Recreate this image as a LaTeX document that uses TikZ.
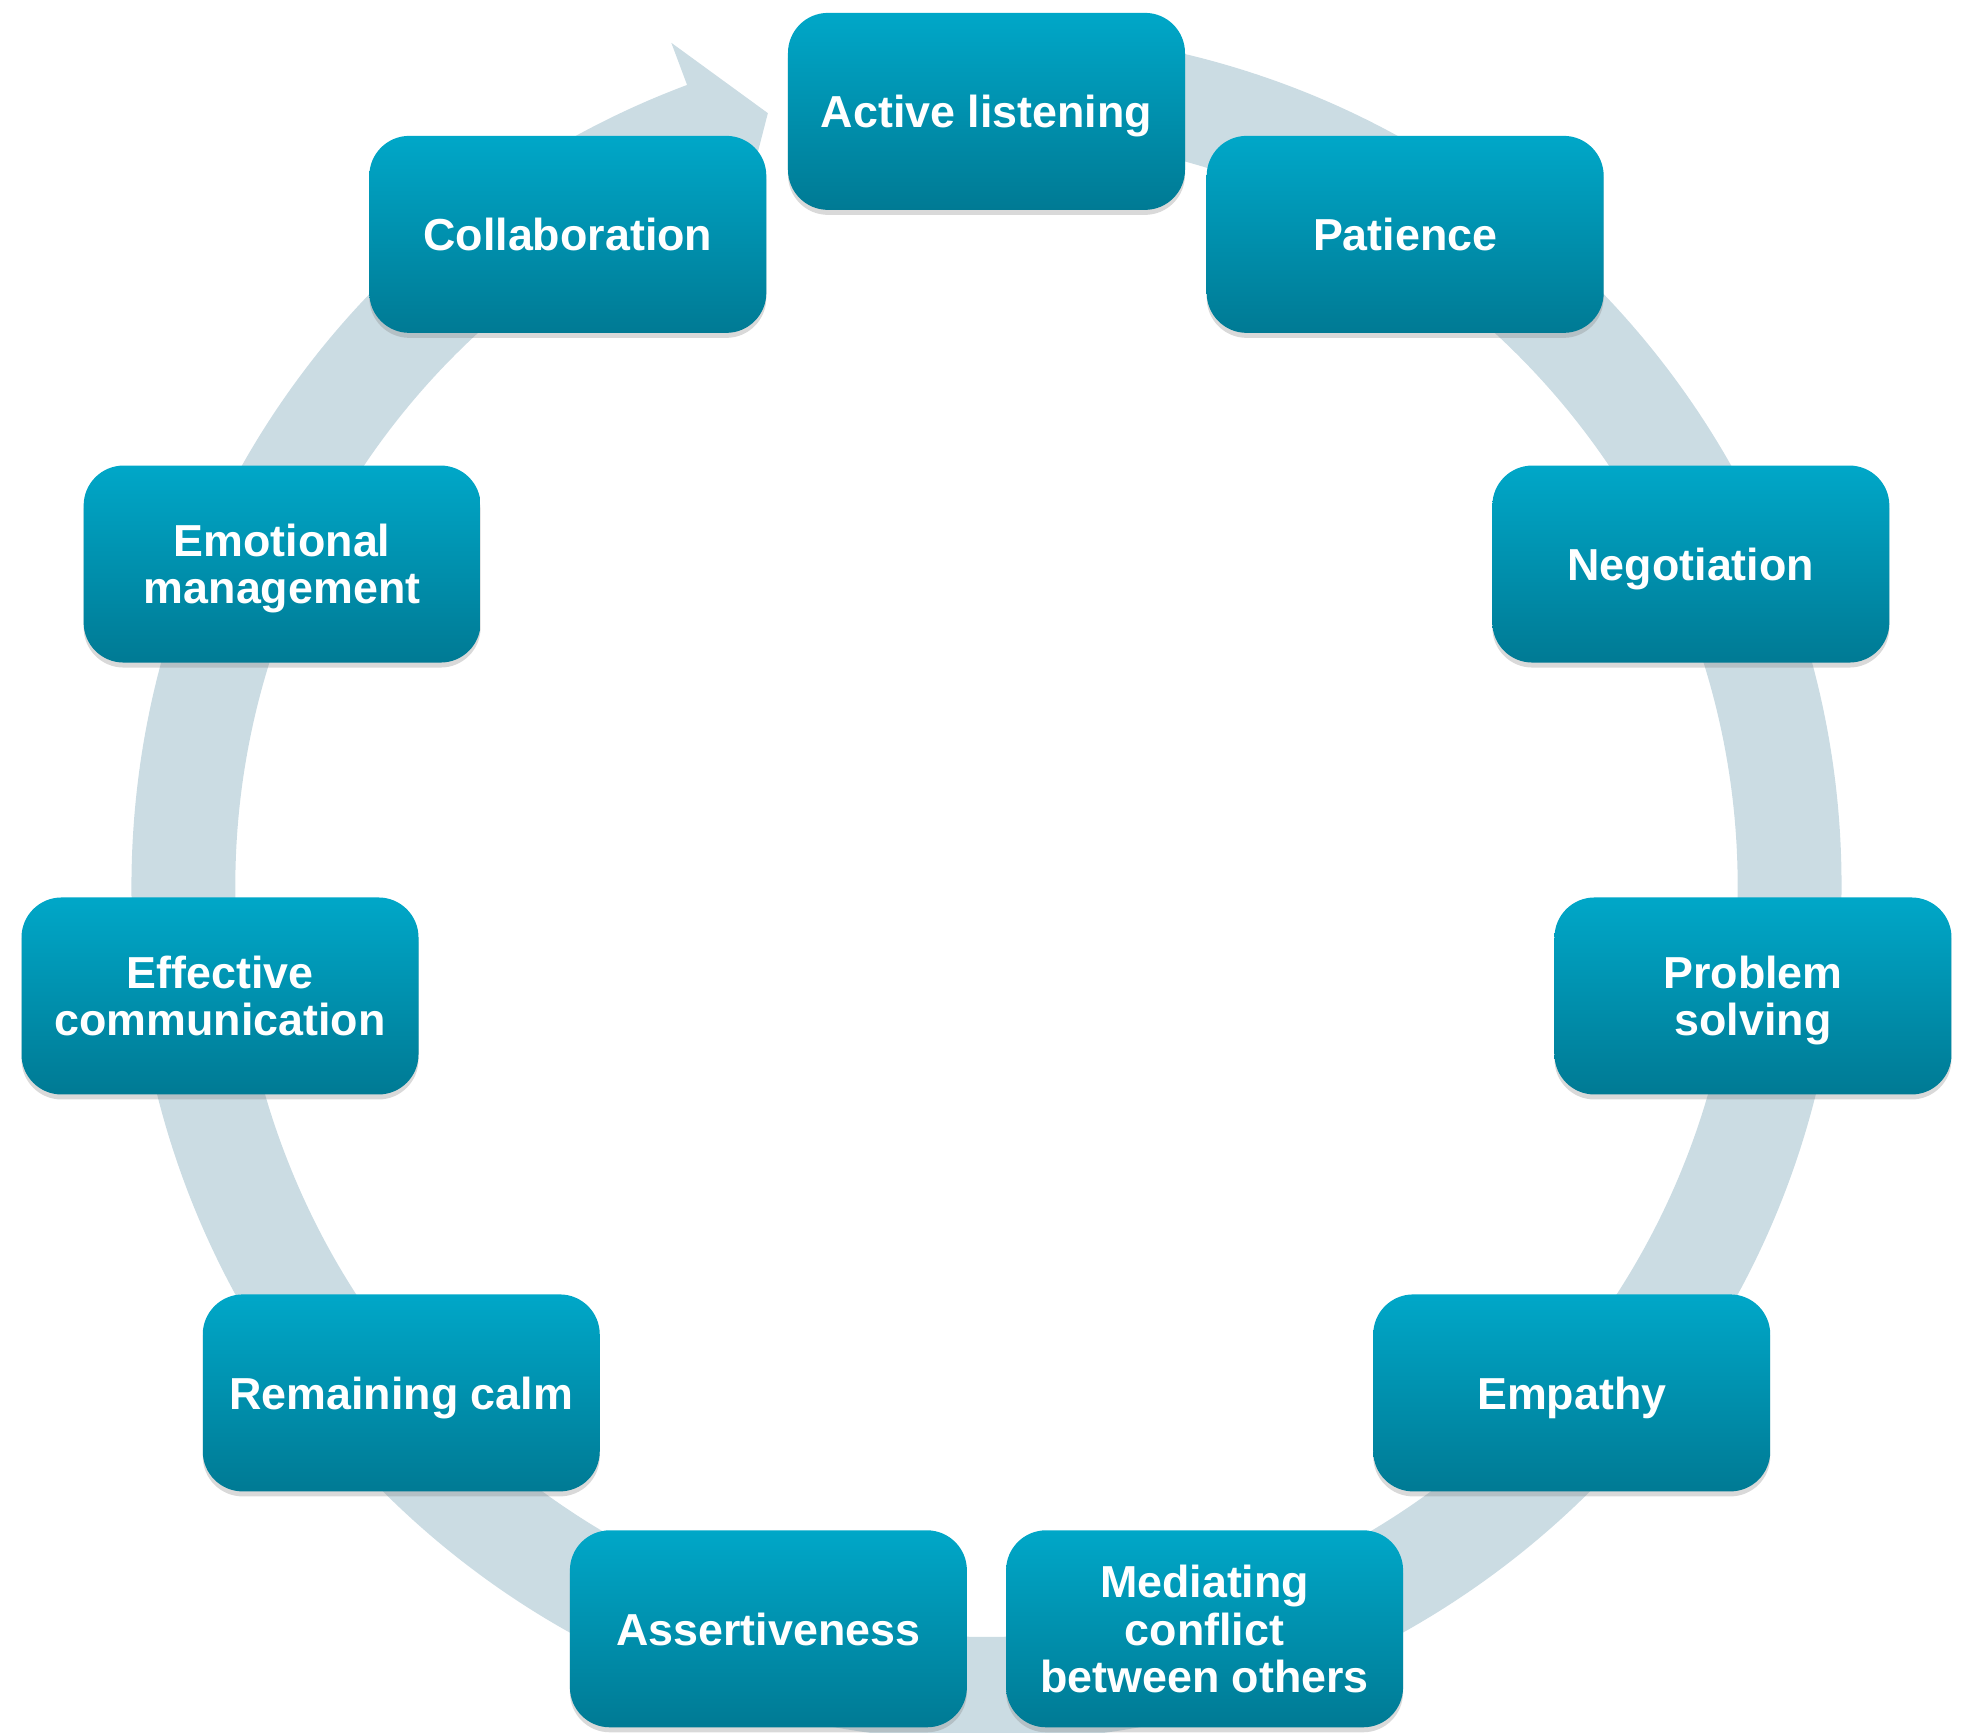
\documentclass[tikz,border=0pt]{standalone}
\usepackage{fontspec}
\setmainfont{Liberation Sans}
\usetikzlibrary{shadows}
\definecolor{ringgrey}{RGB}{203,220,227}
\definecolor{boxtop}{RGB}{0,167,200}
\definecolor{boxbottom}{RGB}{0,122,148}

\begin{document}
\begin{tikzpicture}
    [ skill/.style =
      { rounded corners=.4cm, minimum width=3.97cm, minimum height=1.97cm
      , inner sep=0pt, align=center, text=white, text depth=0pt
      , top color=boxtop, bottom color=boxbottom
      , drop shadow={shadow xshift=0pt, shadow yshift=-.05cm, opacity=.3}
      , font=\fontsize{12.75}{13.4}\selectfont\bfseries }
    , ring/.style =
      { fill=ringgrey }
    ]
    \useasboundingbox (-9.865,-8.472) rectangle (9.765,8.858);
    \clip (-9.865,-8.472) rectangle (9.765,8.858);
    \fill [ring] (85:8.55) arc [start angle=85, end angle=-249.5, radius=8.55]
      -- (110.5:9.0) -- (105.8:8.03) -- (110.5:7.06) -- (110.5:7.51)
      arc [start angle=-249.5, end angle=85, radius=7.51] -- cycle;

    \node [skill] (listening) at (90:7.744) {Active listening};
    \node [skill] (patience) at (57.27:7.744) {Patience};
    \node [skill] (negotiation) at (24.55:7.744) {Negotiation};
    \node [skill] (solving) at (-8.18:7.744) {Problem\\solving};
    \node [skill] (empathy) at (-40.91:7.744) {Empathy};
    \node [skill] (mediating) at (-73.64:7.744) {Mediating\\conflict\\between others};
    \node [skill] (assertiveness) at (-106.36:7.744) {Assertiveness};
    \node [skill] (calm) at (-139.09:7.744) {Remaining calm};
    \node [skill] (communication) at (-171.82:7.744) {Effective\\communication};
    \node [skill] (emotional) at (155.45:7.744) {Emotional\\management};
    \node [skill] (collaboration) at (122.73:7.744) {Collaboration};
  \end{tikzpicture}
\end{document}
